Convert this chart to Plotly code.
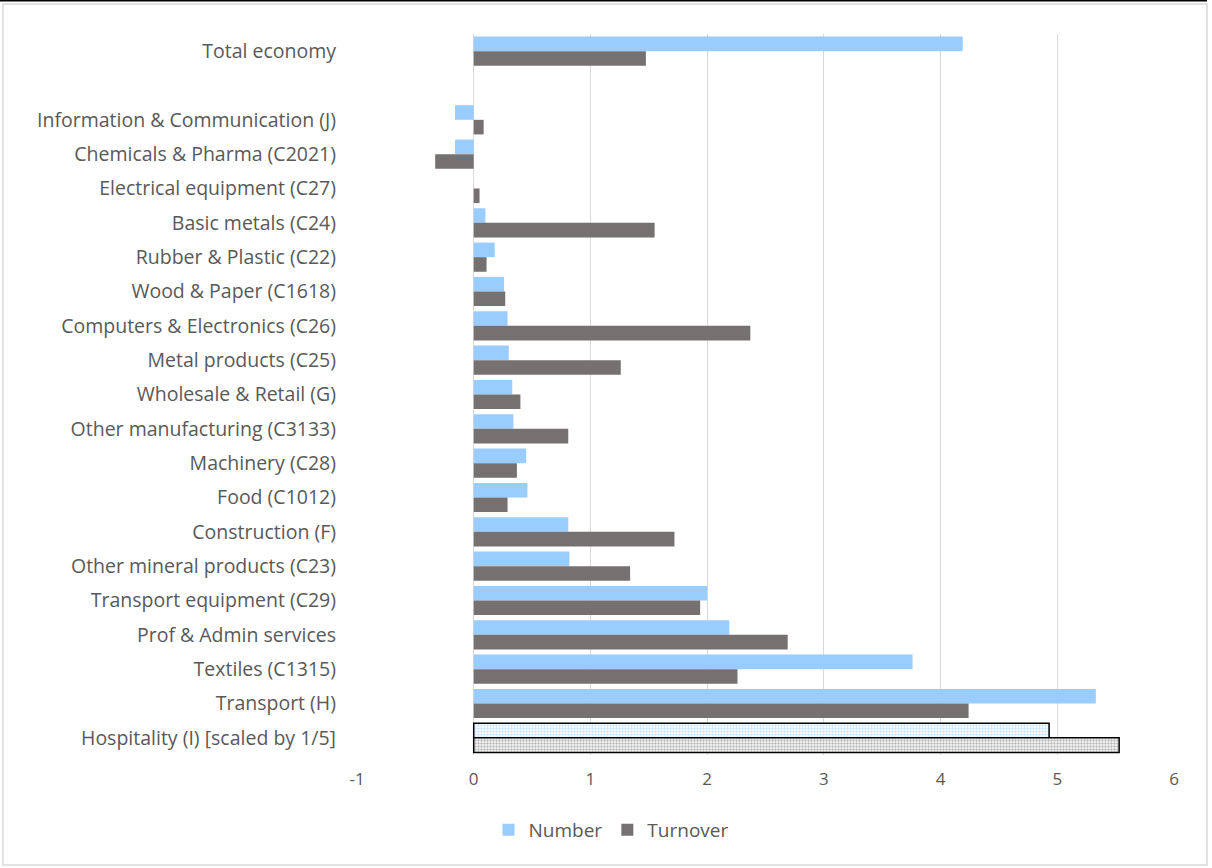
import plotly.graph_objects as go

categories = [
    "Total economy", " ",
    "Information & Communication (J)", "Chemicals & Pharma (C2021)",
    "Electrical equipment (C27)", "Basic metals (C24)", "Rubber & Plastic (C22)",
    "Wood & Paper (C1618)", "Computers & Electronics (C26)", "Metal products (C25)",
    "Wholesale & Retail (G)", "Other manufacturing (C3133)", "Machinery (C28)",
    "Food (C1012)", "Construction (F)", "Other mineral products (C23)",
    "Transport equipment (C29)", "Prof & Admin services", "Textiles (C1315)",
    "Transport (H)", "Hospitality (I) [scaled by 1/5]",
]
number = [4.19, None, -0.16, -0.16, 0.0, 0.10, 0.18, 0.26, 0.29, 0.30, 0.33,
          0.34, 0.45, 0.46, 0.81, 0.82, 2.00, 2.19, 3.76, 5.33, 4.93]
turnover = [1.475, None, 0.085, -0.33, 0.05, 1.55, 0.11, 0.27, 2.37, 1.26, 0.40,
            0.81, 0.37, 0.29, 1.72, 1.34, 1.94, 2.69, 2.26, 4.24, 5.53]
x_ticks = [-1, 0, 1, 2, 3, 4, 5, 6]

highlight = "Hospitality (I) [scaled by 1/5]"
shapes_n = ["." if c == highlight else "" for c in categories]
lw = [1.5 if c == highlight else 0 for c in categories]

fig = go.Figure()
fig.add_trace(go.Bar(
    y=categories, x=number, orientation="h", name="Number",
    marker=dict(color="#99CCFF",
                line=dict(color="black", width=lw),
                pattern=dict(shape=shapes_n, fgcolor="#99CCFF", bgcolor="white",
                             size=3, solidity=0.5)),
))
fig.add_trace(go.Bar(
    y=categories, x=turnover, orientation="h", name="Turnover",
    marker=dict(color="#767171",
                line=dict(color="black", width=lw),
                pattern=dict(shape=shapes_n, fgcolor="#767171", bgcolor="white",
                             size=3, solidity=0.5)),
))

L, R, T, B = 357, 1174, 34, 755
PW, PH = R - L, B - T
def px(x):
    return (x - L) / PW
def py(y):
    return (B - y) / PH

font = "Open Sans, Lato, sans-serif"
fig.update_layout(
    width=1212, height=868,
    margin=dict(l=L, r=1212 - R, t=T, b=868 - B),
    paper_bgcolor="white", plot_bgcolor="white",
    barmode="group", bargap=0.15, bargroupgap=0,
    font=dict(family=font, size=18, color="#595959"),
    showlegend=True,
    legend=dict(orientation="h", x=px(611), xanchor="center", y=py(830), yanchor="middle",
                font=dict(size=19, color="#595959"), traceorder="normal",
                itemwidth=30, bgcolor="rgba(0,0,0,0)"),
    xaxis=dict(range=[-1, 6], tickvals=x_ticks, ticktext=[str(v) for v in x_ticks],
               showgrid=True, gridcolor="#d9d9d9", gridwidth=1.3,
               zeroline=True, zerolinecolor="#d9d9d9", zerolinewidth=1.3,
               showline=False, ticks="", ticklabelstandoff=12,
               tickfont=dict(size=17, color="#595959")),
    yaxis=dict(categoryorder="array", categoryarray=categories,
               autorange="reversed", showgrid=False, zeroline=False,
               showline=False, ticks="", ticklabelstandoff=20,
               tickfont=dict(size=19.5, color="#595959")),
    shapes=[
        dict(type="rect", xref="paper", yref="paper",
             x0=px(3), x1=px(1207), y0=py(865), y1=py(4),
             line=dict(color="#d9d9d9", width=1.5), fillcolor="rgba(0,0,0,0)",
             layer="below"),
        dict(type="line", xref="paper", yref="paper",
             x0=px(0), x1=px(1207), y0=py(0.8), y1=py(0.8),
             line=dict(color="black", width=1.6)),
    ],
)

fig.write_html("out.html", config={"displayModeBar": False},
               post_script="document.body.style.margin='0';document.body.style.overflow='hidden';")
